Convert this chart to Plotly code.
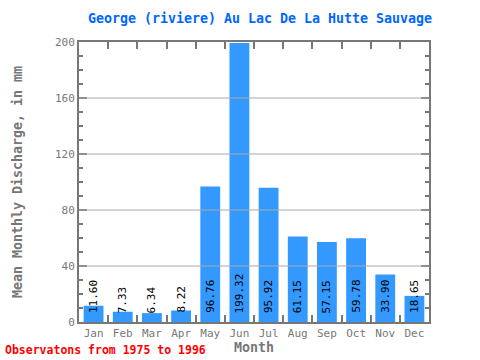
import plotly.graph_objects as go

months = ["Jan", "Feb", "Mar", "Apr", "May", "Jun", "Jul", "Aug", "Sep", "Oct", "Nov", "Dec"]
values = [11.60, 7.33, 6.34, 8.22, 96.76, 199.32, 95.92, 61.15, 57.15, 59.78, 33.90, 18.65]
labels = ["11.60", "7.33", "6.34", "8.22", "96.76", "199.32", "95.92", "61.15", "57.15", "59.78", "33.90", "18.65"]
y_ticks = [0, 40, 80, 120, 160, 200]

FONT = "DejaVu Sans Mono"
AX = "#777777"

fig = go.Figure()
fig.add_trace(go.Bar(x=months, y=values, marker=dict(color="#3399ff", line=dict(width=0)),
                     width=0.68, hoverinfo="skip"))

for m, v, t in zip(months, values, labels):
    fig.add_annotation(x=m, y=0, text=t, textangle=-90, showarrow=False,
                       xanchor="center", yanchor="bottom", yshift=7,
                       font=dict(family=FONT, size=11, color="black"))

# gridlines drawn above bars, as in the reference
for g in y_ticks[1:-1]:
    fig.add_shape(type="line", xref="paper", yref="y", x0=0, x1=1, y0=g, y1=g,
                  line=dict(color="#aaaaaa", width=1), layer="above")

fig.update_layout(
    width=480, height=360,
    margin=dict(l=79, r=51, t=42, b=38, autoexpand=False),
    paper_bgcolor="white", plot_bgcolor="white",
    showlegend=False,
    title=dict(text="<b>George (riviere) Au Lac De La Hutte Sauvage</b>", x=260/480, xanchor="center",
               y=1 - 18/360, yanchor="middle",
               font=dict(family=FONT, size=13.3, color="#0066ff")),
    xaxis=dict(showline=True, linecolor=AX, linewidth=2, mirror="ticks", automargin=False,
               ticks="inside", ticklen=7, tickwidth=2, tickcolor=AX, tickson="boundaries",
               tickangle=0,
               tickfont=dict(family=FONT, size=11, color=AX),
               title=dict(text="<b>Month</b>", font=dict(family=FONT, size=13.3, color=AX), standoff=0),
               showgrid=False),
    yaxis=dict(range=[0, 200], showline=True, linecolor=AX, linewidth=2, mirror="ticks", automargin=False,
               ticks="inside", ticklen=8, tickwidth=2, tickcolor=AX,
               tickvals=y_ticks,
               tickfont=dict(family=FONT, size=11, color=AX),
               minor=dict(dtick=10, ticks="inside", ticklen=4, tickwidth=2, tickcolor=AX, showgrid=False),
               showgrid=False, zeroline=False,
               title=dict(text="<b>Mean Monthly Discharge, in mm</b>",
                          font=dict(family=FONT, size=13.3, color=AX), standoff=29)),
)

fig.add_annotation(xref="paper", yref="paper", x=-76/350, y=-38/280, xanchor="left", yanchor="bottom",
                   yshift=1,
                   text="<b>Observatons from 1975 to 1996</b>", showarrow=False,
                   font=dict(family=FONT, size=11.5, color="red"))

fig.write_html("out.html", config={"displayModeBar": False},
               post_script="document.body.style.margin='0';")
